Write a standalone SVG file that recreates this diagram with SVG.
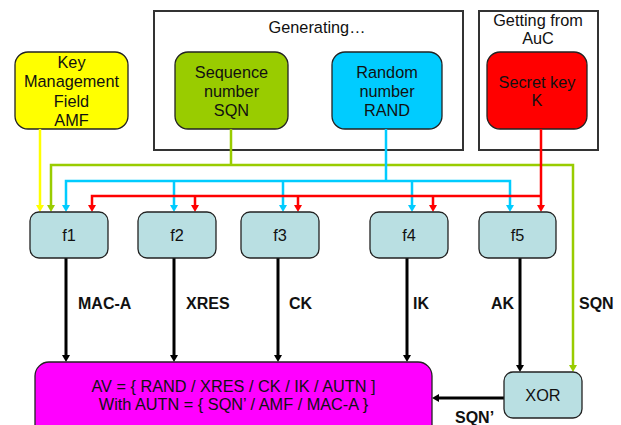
<svg xmlns="http://www.w3.org/2000/svg" width="621" height="425" viewBox="0 0 621 425">
<style>
text{font-family:"Liberation Sans",Arial,sans-serif;font-size:16.3px;fill:#111;text-anchor:middle}
.lbl{font-weight:bold;font-size:16px;text-anchor:start}
.frame{fill:#fff;stroke:#333;stroke-width:2}
.node{stroke:#222;stroke-width:1.3}
.f{fill:#b9dfe2;stroke:#222;stroke-width:1.3}
</style>
<g id="generating">
<rect class="frame" x="154" y="11" width="309" height="139"/>
<text x="317" y="33">Generating…</text>
</g>
<g id="getting">
<rect class="frame" x="479" y="11" width="119" height="139"/>
<text x="538" y="26">Getting from</text>
<text x="538" y="44">AuC</text>
</g>
<g id="amf">
<rect class="node" x="15" y="52" width="113" height="77" rx="13" fill="#ffff00"/>
<text x="71.5" y="68">Key</text>
<text x="71.5" y="87">Management</text>
<text x="71.5" y="107">Field</text>
<text x="71.5" y="126">AMF</text>
</g>
<g id="sqn">
<rect class="node" x="175" y="52" width="113" height="77" rx="13" fill="#99cc00"/>
<text x="231.5" y="78">Sequence</text>
<text x="231.5" y="97">number</text>
<text x="231.5" y="116">SQN</text>
</g>
<g id="rand">
<rect class="node" x="332" y="52" width="110" height="77" rx="13" fill="#00ccff"/>
<text x="387" y="78">Random</text>
<text x="387" y="97">number</text>
<text x="387" y="116">RAND</text>
</g>
<g id="key">
<rect class="node" x="487" y="52" width="100" height="77" rx="13" fill="#ff0000"/>
<text x="537" y="88">Secret key</text>
<text x="537" y="106">K</text>
</g>
<g id="connectors">
<g fill="none" stroke-linejoin="miter">
<path d="M40,129 V206" stroke="#ffff00" stroke-width="2.5"/>
<path d="M231,129 V165 H51 V206 M231,165 H573 V366" stroke="#99cc00" stroke-width="2.5"/>
<path d="M386,129 V181 M66,206 V181 H510 V206 M174,181 V206 M283,181 V206 M412,181 V206" stroke="#00ccff" stroke-width="2.5"/>
<path d="M541,129 V206 M92,206 V196 H541 M195,196 V206 M298,196 V206 M433,196 V206" stroke="#ff0000" stroke-width="2.5"/>
<path d="M66,258 V356 M174,258 V356 M278,258 V356 M407,258 V356 M520,258 V366 M504,398 H438" stroke="#000" stroke-width="3"/>
</g>
<g stroke="none">
<path d="M36,205 L44,205 L40,212 Z" fill="#ffff00"/>
<path d="M47,205 L55,205 L51,212 Z" fill="#99cc00"/>
<path d="M569,365 L577,365 L573,372 Z" fill="#99cc00"/>
<path d="M62,205 L70,205 L66,212 Z" fill="#00ccff"/>
<path d="M170,205 L178,205 L174,212 Z" fill="#00ccff"/>
<path d="M279,205 L287,205 L283,212 Z" fill="#00ccff"/>
<path d="M408,205 L416,205 L412,212 Z" fill="#00ccff"/>
<path d="M506,205 L514,205 L510,212 Z" fill="#00ccff"/>
<path d="M88,205 L96,205 L92,212 Z" fill="#ff0000"/>
<path d="M191,205 L199,205 L195,212 Z" fill="#ff0000"/>
<path d="M294,205 L302,205 L298,212 Z" fill="#ff0000"/>
<path d="M429,205 L437,205 L433,212 Z" fill="#ff0000"/>
<path d="M537,205 L545,205 L541,212 Z" fill="#ff0000"/>
<path d="M62,355 L70,355 L66,362 Z" fill="#000"/>
<path d="M170,355 L178,355 L174,362 Z" fill="#000"/>
<path d="M274,355 L282,355 L278,362 Z" fill="#000"/>
<path d="M403,355 L411,355 L407,362 Z" fill="#000"/>
<path d="M516,365 L524,365 L520,372 Z" fill="#000"/>
<path d="M439,394 L439,402 L432,398 Z" fill="#000"/>
</g>
<text class="lbl" x="78" y="309">MAC-A</text>
<text class="lbl" x="186" y="309">XRES</text>
<text class="lbl" x="289" y="309">CK</text>
<text class="lbl" x="413" y="309">IK</text>
<text class="lbl" x="491" y="309">AK</text>
<text class="lbl" x="579" y="309">SQN</text>
<text class="lbl" x="455" y="423">SQN’</text>
</g>
<g id="f1"><rect class="f" x="30" y="212" width="78" height="46" rx="9"/><text x="69" y="241">f1</text></g>
<g id="f2"><rect class="f" x="138" y="212" width="78" height="46" rx="9"/><text x="177" y="241">f2</text></g>
<g id="f3"><rect class="f" x="241" y="212" width="78" height="46" rx="9"/><text x="280" y="241">f3</text></g>
<g id="f4"><rect class="f" x="370" y="212" width="78" height="46" rx="9"/><text x="409" y="241">f4</text></g>
<g id="f5"><rect class="f" x="479" y="212" width="77" height="46" rx="9"/><text x="517.5" y="241">f5</text></g>
<g id="xor"><rect class="f" x="504" y="372" width="78" height="46" rx="9"/><text x="543" y="401">XOR</text></g>
<g id="av">
<rect class="node" x="35" y="362" width="397" height="80" rx="14" fill="#ff00ff"/>
<text x="233.5" y="392">AV = { RAND / XRES / CK / IK / AUTN ]</text>
<text x="233.5" y="410">With AUTN = { SQN’ / AMF / MAC-A }</text>
</g>
</svg>
